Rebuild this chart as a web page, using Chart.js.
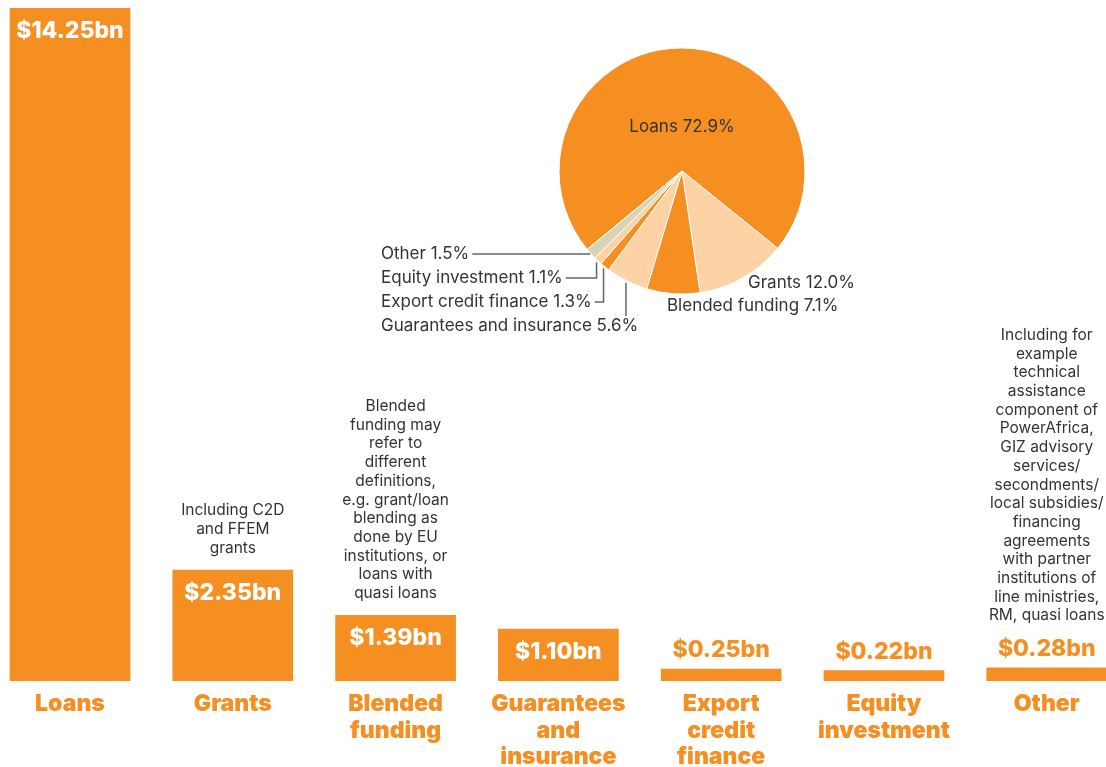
<!DOCTYPE html>
<html>
<head>
<meta charset="utf-8">
<script src="https://cdn.jsdelivr.net/npm/chart.js@4.4.1/dist/chart.umd.min.js"></script>
<style>
  html, body { margin: 0; padding: 0; background: #fff; overflow: hidden; }
  #wrap { position: relative; width: 1106px; height: 767px; }
  #barBox { position: absolute; left: 0; top: 0; width: 1106px; height: 767px; }
  #pieBox { position: absolute; left: 370px; top: 40px; width: 560px; height: 300px; }
</style>
</head>
<body>
<div id="wrap">
  <div id="barBox"><canvas id="barChart"></canvas></div>
  <div id="pieBox"><canvas id="pieChart"></canvas></div>
</div>
<script>
// bar data
const categories = [
  ['Loans'], ['Grants'], ['Blended', 'funding'], ['Guarantees', 'and', 'insurance'],
  ['Export', 'credit', 'finance'], ['Equity', 'investment'], ['Other']
];
const amounts = [14.25, 2.35, 1.39, 1.10, 0.25, 0.22, 0.28];
const notes = [
  [],
  ['Including C2D', 'and FFEM', 'grants'],
  ['Blended', 'funding may', 'refer to', 'different', 'definitions,', 'e.g. grant/loan',
   'blending as', 'done by EU', 'institutions, or', 'loans with', 'quasi loans'],
  [], [], [],
  ['Including for', 'example', 'technical', 'assistance', 'component of', 'PowerAfrica,',
   'GIZ advisory', 'services/', 'secondments/', 'local subsidies/', 'financing',
   'agreements', 'with partner', 'institutions of', 'line ministries,', 'RM, quasi loans']
];

// pie data
const pieNames = ['Loans', 'Grants', 'Blended funding', 'Guarantees and insurance',
  'Export credit finance', 'Equity investment', 'Other'];
const piePct = [72.9, 12.0, 7.1, 5.6, 1.3, 1.1, 1.5];

const ORANGE = '#F58F22';
const PEACH = '#FDD3A6';
const BEIGE = '#D8D3B6';
const TEXT = '#333333';
const FONT = 'Inter';

// where the pie labels sit inside the pie canvas
const pieLabelPos = [
  { x: 312, y: 87, align: 'center' },
  { x: 378, y: 243, align: 'left' },
  { x: 297, y: 266, align: 'left' },
  { x: 11, y: 286, align: 'left', lead: true },
  { x: 11, y: 262, align: 'left', lead: true },
  { x: 11, y: 238, align: 'left', lead: true },
  { x: 11, y: 214, align: 'left', lead: true }
];

const barText = {
  id: 'barText',
  afterDatasetsDraw(chart) {
    const ctx = chart.ctx;
    const meta = chart.getDatasetMeta(0);
    ctx.save();
    ctx.textAlign = 'center';
    ctx.textBaseline = 'middle';
    meta.data.forEach((bar, i) => {
      const inside = (bar.base - bar.y) > 40;
      const vy = inside ? bar.y + 23 : bar.y - 19;
      ctx.font = `800 23px ${FONT}`;
      ctx.fillStyle = inside ? '#fff' : ORANGE;
      ctx.fillText('$' + amounts[i].toFixed(2) + 'bn', bar.x, vy);

      ctx.font = `15.5px ${FONT}`;
      ctx.fillStyle = TEXT;
      const lines = notes[i];
      const lastY = inside ? bar.y - 22 : vy - 33;
      lines.forEach((t, j) => {
        ctx.fillText(t, bar.x, lastY - (lines.length - 1 - j) * 18.7);
      });
    });
    ctx.restore();
  }
};

const pieText = {
  id: 'pieText',
  afterDatasetsDraw(chart) {
    const ctx = chart.ctx;
    const meta = chart.getDatasetMeta(0);
    ctx.save();
    ctx.font = `17px ${FONT}`;
    ctx.textBaseline = 'middle';
    ctx.strokeStyle = '#666';
    ctx.lineWidth = 1.5;
    pieNames.forEach((name, i) => {
      const p = pieLabelPos[i];
      const text = name + ' ' + piePct[i].toFixed(1) + '%';
      ctx.fillStyle = TEXT;
      ctx.textAlign = p.align;
      ctx.fillText(text, p.x, p.y);
      if (p.lead) {
        const arc = meta.data[i];
        const mid = (arc.startAngle + arc.endAngle) / 2;
        const r = arc.outerRadius + 2;
        const ax = arc.x + Math.cos(mid) * r;
        const ay = arc.y + Math.sin(mid) * r;
        const end = p.x + ctx.measureText(text).width + 3;
        ctx.beginPath();
        if (end < ax - 4) {
          ctx.moveTo(end, p.y);
          ctx.lineTo(ax, p.y);
          ctx.lineTo(ax, ay);
        } else {
          ctx.moveTo(ax, p.y - 10);
          ctx.lineTo(ax, ay);
        }
        ctx.stroke();
      }
    });
    ctx.restore();
  }
};

new Chart(document.getElementById('barChart'), {
  type: 'bar',
  data: {
    datasets: [{
      data: amounts.map((v, i) => ({ x: i, y: v })),
      backgroundColor: ORANGE,
      borderWidth: 0,
      barThickness: 120
    }]
  },
  options: {
    responsive: true,
    maintainAspectRatio: false,
    animation: false,
    layout: { padding: { top: 8, left: 0, right: 0, bottom: 0 } },
    plugins: { legend: { display: false }, tooltip: { enabled: false } },
    scales: {
      x: {
        type: 'linear',
        offset: false,
        min: -0.43,
        max: 6.364,
        grid: { display: false, drawTicks: false, offset: false },
        border: { display: false },
        ticks: {
          stepSize: 1,
          includeBounds: false,
          autoSkip: false,
          maxRotation: 0,
          padding: 10,
          color: ORANGE,
          font: { family: FONT, size: 23, weight: '900', lineHeight: 1.15 },
          callback: (v) => categories[v] || ''
        },
        afterFit: (s) => { s.height = 86; }
      },
      y: { display: false, min: 0, max: 14.25 }
    }
  },
  plugins: [barText]
});

new Chart(document.getElementById('pieChart'), {
  type: 'pie',
  data: {
    labels: pieNames,
    datasets: [{
      data: piePct,
      backgroundColor: [ORANGE, PEACH, ORANGE, PEACH, ORANGE, PEACH, BEIGE],
      borderColor: '#fff',
      borderWidth: 1
    }]
  },
  options: {
    responsive: true,
    maintainAspectRatio: false,
    animation: false,
    rotation: 230.4,
    radius: 123,
    layout: { padding: { left: 124, right: 60, top: 0, bottom: 38 } },
    plugins: { legend: { display: false }, tooltip: { enabled: false } }
  },
  plugins: [pieText]
});
</script>
</body>
</html>
